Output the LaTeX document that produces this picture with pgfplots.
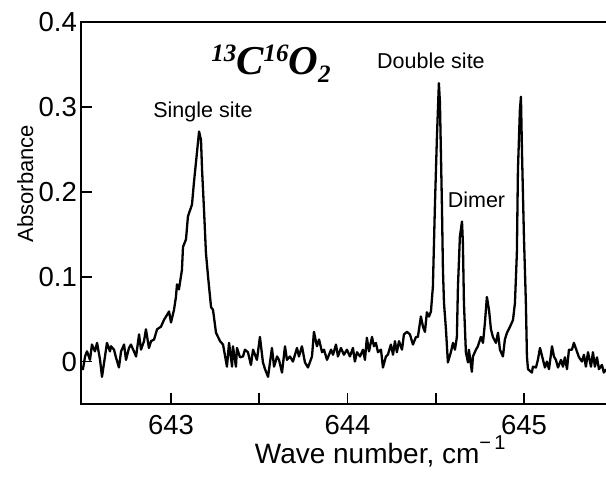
\documentclass[border=0pt]{standalone}
\usepackage{fontspec}
\setmainfont{Liberation Sans}
\newfontfamily\titlefont[BoldItalicFont={Liberation Serif Bold Italic}]{Liberation Serif}
\usepackage{pgfplots}
\pgfplotsset{compat=1.18}
\begin{document}
\begin{tikzpicture}
\begin{axis}[
  scale only axis, width=525pt, height=382pt,
  xmin=642.49, xmax=645.465, ymin=-0.05, ymax=0.4,
  clip=false,
  axis line style={draw=none},
  xtick={643,644,645}, xticklabels={643,644,645},
  minor xtick={643.5,644.5},
  ytick={0,0.1,0.2,0.3,0.4}, yticklabels={0,0.1,0.2,0.3,0.4},
  xtick pos=bottom, ytick pos=left, tick align=inside,
  major tick length=11pt, minor tick length=11pt,
  every tick/.style={black, line width=1.8pt},
  minor tick style={black, line width=1.8pt},
  /pgf/number format/assume math mode=true,
  tick label style={font=\fontsize{27.5}{32}\selectfont},
  yticklabel style={inner sep=0pt, xshift=-4pt},
  xticklabel style={inner sep=0pt, yshift=-11pt},
  xlabel={Wave number, cm\raisebox{14pt}{\fontsize{20}{20}\selectfont −\,1}},
  xlabel style={at={(axis description cs:0.57,-0.1545)}, anchor=base, inner sep=0pt, font=\fontsize{28}{32}\selectfont},
  ylabel={Absorbance},
  ylabel style={at={(axis description cs:-0.0914,0.577)}, anchor=base, rotate=0, inner sep=0pt, font=\fontsize{22}{26}\selectfont},
]
\addplot[black, line width=2.3pt, line join=round] coordinates {
(642.490,-0.007) (642.501,-0.009) (642.513,0.006) (642.524,0.012) (642.541,0.002)
(642.552,0.020) (642.569,0.012) (642.581,0.022) (642.598,0.002) (642.609,-0.018)
(642.626,0.006) (642.637,0.022) (642.654,0.012) (642.660,0.018) (642.677,0.014)
(642.688,0.005) (642.705,-0.007) (642.717,0.012) (642.734,0.020) (642.745,0.002)
(642.762,0.016) (642.773,0.020) (642.790,0.012) (642.802,0.006) (642.819,0.032)
(642.830,0.014) (642.847,0.024) (642.858,0.038) (642.875,0.016) (642.887,0.024)
(642.904,0.026) (642.921,0.038) (642.943,0.041) (642.960,0.049) (642.972,0.053)
(642.989,0.059) (643.000,0.046) (643.017,0.061) (643.028,0.076) (643.034,0.091)
(643.045,0.085) (643.062,0.108) (643.068,0.135) (643.085,0.144) (643.096,0.171)
(643.119,0.185) (643.130,0.211) (643.147,0.246) (643.159,0.271) (643.170,0.261)
(643.176,0.226) (643.187,0.179) (643.198,0.128) (643.210,0.100) (643.227,0.064)
(643.238,0.061) (643.255,0.034) (643.278,0.024) (643.295,0.020) (643.317,-0.006)
(643.329,0.022) (643.346,-0.006) (643.351,0.018) (643.368,-0.006) (643.374,0.016)
(643.391,0.005) (643.408,0.006) (643.419,0.014) (643.436,0.011) (643.453,-0.004)
(643.465,0.014) (643.487,0.002) (643.504,0.029) (643.521,-0.001) (643.533,-0.009)
(643.550,-0.018) (643.572,0.016) (643.584,-0.006) (643.601,0.006) (643.612,0.002)
(643.629,-0.013) (643.646,0.018) (643.657,0.002) (643.674,0.006) (643.691,0.000)
(643.714,0.016) (643.725,0.006) (643.742,0.018) (643.759,-0.001) (643.776,-0.007)
(643.799,0.006) (643.810,0.035) (643.827,0.018) (643.839,0.026) (643.856,0.011)
(643.867,0.014) (643.884,0.002) (643.907,0.014) (643.918,0.008) (643.935,0.020)
(643.946,0.006) (643.963,0.016) (643.980,0.008) (643.997,0.014) (644.014,0.006)
(644.031,0.016) (644.042,0.000) (644.054,0.011) (644.071,0.006) (644.088,0.014)
(644.099,0.002) (644.110,0.028) (644.122,0.012) (644.139,0.029) (644.150,0.018)
(644.161,0.022) (644.173,0.011) (644.190,0.014) (644.201,-0.007) (644.218,0.006)
(644.229,0.008) (644.246,0.020) (644.258,0.008) (644.269,0.024) (644.280,0.011)
(644.292,0.024) (644.309,0.014) (644.320,0.032) (644.337,0.035) (644.354,0.032)
(644.371,0.020) (644.388,0.029) (644.399,0.029) (644.416,0.053) (644.428,0.041)
(644.439,0.035) (644.450,0.058) (644.462,0.053) (644.473,0.059) (644.484,0.088)
(644.496,0.187) (644.507,0.265) (644.518,0.328) (644.524,0.305) (644.535,0.187)
(644.541,0.108) (644.547,0.069) (644.558,0.038) (644.569,-0.001) (644.586,0.011)
(644.598,0.022) (644.609,0.014) (644.620,0.029) (644.626,0.088) (644.637,0.147)
(644.649,0.165) (644.654,0.140) (644.660,0.069) (644.671,0.011) (644.683,-0.001)
(644.688,0.014) (644.705,-0.012) (644.711,0.006) (644.728,0.014) (644.739,0.018)
(644.756,0.029) (644.768,0.022) (644.779,0.046) (644.790,0.076) (644.802,0.061)
(644.813,0.038) (644.824,0.029) (644.841,0.022) (644.853,0.034) (644.864,0.014)
(644.881,0.006) (644.892,0.026) (644.904,0.034) (644.921,0.041) (644.938,0.049)
(644.949,0.069) (644.960,0.128) (644.966,0.226) (644.977,0.296) (644.983,0.312)
(644.989,0.246) (645.000,0.147) (645.011,0.069) (645.017,0.006) (645.023,-0.009)
(645.045,-0.013) (645.051,-0.006) (645.068,-0.007) (645.079,0.002) (645.091,0.016)
(645.108,0.002) (645.119,-0.007) (645.130,0.000) (645.142,-0.009) (645.159,0.018)
(645.170,0.006) (645.181,0.002) (645.193,-0.007) (645.210,0.002) (645.221,-0.006)
(645.232,0.005) (645.244,-0.009) (645.255,0.014) (645.272,0.014) (645.283,0.022)
(645.300,0.012) (645.312,0.005) (645.329,0.000) (645.340,0.008) (645.351,-0.006)
(645.363,0.011) (645.380,-0.006) (645.391,0.011) (645.402,-0.006) (645.414,0.005)
(645.425,-0.009) (645.442,-0.004) (645.453,-0.013) (645.465,-0.009)
};
\draw[black, line width=1.8pt] (rel axis cs:1,1) -- (rel axis cs:0,1) -- (rel axis cs:0,0) -- (rel axis cs:1,0);
\node[anchor=base, inner sep=0pt, font=\fontsize{21.5}{26}\selectfont] at (axis cs:643.181,0.287) {Single site};
\node[anchor=base, inner sep=0pt, font=\fontsize{21.5}{26}\selectfont] at (axis cs:644.473,0.345) {Double site};
\node[anchor=base, inner sep=0pt, font=\fontsize{21.5}{26}\selectfont] at (axis cs:644.731,0.181) {Dimer};
\node[anchor=base west, inner sep=0pt] at (axis cs:643.227,0.338) {\titlefont\bfseries\itshape{\fontsize{25}{25}\selectfont\raisebox{13pt}{13}}{\fontsize{41}{41}\selectfont C}{\fontsize{25}{25}\selectfont\raisebox{13pt}{16}}{\fontsize{41}{41}\selectfont O}{\fontsize{25}{25}\selectfont\raisebox{-8pt}{2}}};
\end{axis}
\pgfresetboundingbox
\path (-81pt,-74pt) rectangle (525pt,404pt);
\end{tikzpicture}
\end{document}
